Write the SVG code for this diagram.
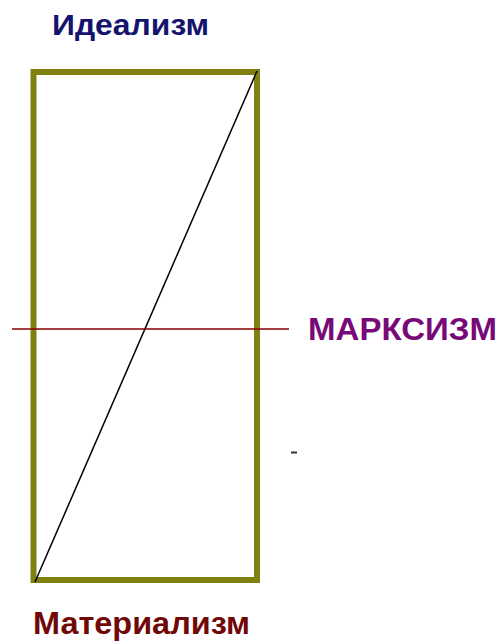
<svg xmlns="http://www.w3.org/2000/svg" width="500" height="641" viewBox="0 0 500 641">
<style>
.t{font-family:"Liberation Sans",Arial,sans-serif;font-weight:bold}
</style>
<rect width="500" height="641" fill="#ffffff"/>
<g id="frame"><rect x="33.5" y="72" width="223.5" height="508" fill="none" stroke="#808010" stroke-width="6"/></g>
<g id="connectors">
<line x1="35" y1="582" x2="257" y2="71" stroke="#000" stroke-width="1.5"/>
<line x1="12" y1="329" x2="289" y2="329" stroke="#800000" stroke-width="1.5"/>
<line x1="291" y1="452.5" x2="297" y2="452.5" stroke="#333" stroke-width="2"/>
</g>
<g id="idealism"><text class="t" x="52" y="35" font-size="30" fill="#14146e" textLength="157" lengthAdjust="spacingAndGlyphs">Идеализм</text></g>
<g id="marxism"><text class="t" x="308" y="340" font-size="32" fill="#780a78" textLength="189" lengthAdjust="spacingAndGlyphs">МАРКСИЗМ</text></g>
<g id="materialism"><text class="t" x="33" y="634" font-size="31" fill="#700808" textLength="217" lengthAdjust="spacingAndGlyphs">Материализм</text></g>
</svg>
